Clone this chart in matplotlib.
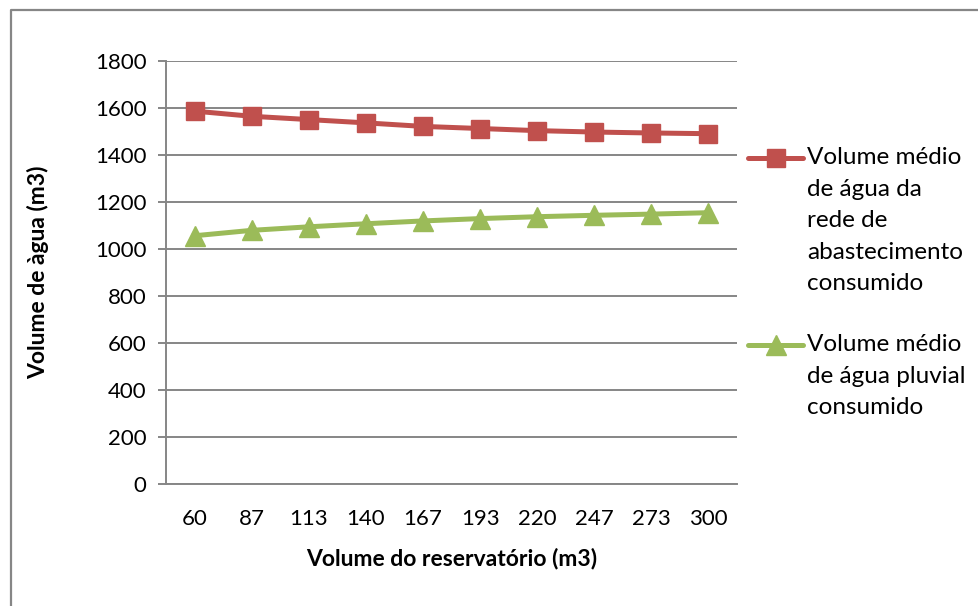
import numpy as np
import matplotlib
matplotlib.use("Agg")
import matplotlib.pyplot as plt
from matplotlib.lines import Line2D

# dados: volume do reservatorio (m3) e volumes medios consumidos (m3)
reservatorio = ["60", "87", "113", "140", "167", "193", "220", "247", "273", "300"]
agua_rede = [1587, 1565, 1551, 1537, 1522, 1513, 1504, 1498, 1494, 1491]
agua_pluvial = [1057, 1080, 1095, 1108, 1120, 1130, 1138, 1144, 1149, 1155]

rotulo_rede = "Volume médio\nde água da\nrede de\nabastecimento\nconsumido"
rotulo_pluvial = "Volume médio\nde água pluvial\nconsumido"

vermelho = "#C0504D"
verde = "#9BBB59"
cinza = "#868686"

plt.rcParams["font.family"] = ["Lato", "DejaVu Sans"]

fig = plt.figure(figsize=(9.79, 6.06), dpi=100)
ax = fig.add_axes([0.1696, 0.2008, 0.5832, 0.6985])

x = np.arange(len(reservatorio))
ax.plot(x, agua_rede, color=vermelho, lw=3.6, marker="s", ms=13, zorder=3)
ax.plot(x, agua_pluvial, color=verde, lw=3.6, marker="^", ms=15, zorder=3)

ax.set_xlim(-0.5, len(reservatorio) - 0.5)
ax.set_ylim(0, 1800)
ax.set_yticks(np.arange(0, 1801, 200))
ax.set_xticks(x)
ax.set_xticklabels(reservatorio)
ax.yaxis.grid(True, color=cinza, lw=1.4)
ax.set_axisbelow(True)
for lado in ["top", "right"]:
    ax.spines[lado].set_visible(False)
for lado in ["left", "bottom"]:
    ax.spines[lado].set_color(cinza)
    ax.spines[lado].set_linewidth(1.4)
ax.tick_params(axis="y", length=6, width=1.4, color=cinza, labelsize=16, pad=8)
ax.tick_params(axis="x", length=0, labelsize=16, pad=18)

ax.set_xlabel("Volume do reservatório (m3)", fontsize=16.5, fontweight="bold", labelpad=13)
ax.set_ylabel("Volume de àgua (m3)", fontsize=16.5, fontweight="bold")
ax.yaxis.set_label_coords(-0.205, 0.5)

# legenda desenhada a mao (marcador alinhado com a primeira linha do texto)
W, H = 979, 606
def item_legenda(y_px, cor, marcador, ms, texto):
    yf = 1 - y_px / H
    fig.add_artist(Line2D([748 / W, 803 / W], [yf, yf], color=cor, lw=3.6,
                          solid_capstyle="round", transform=fig.transFigure))
    fig.add_artist(Line2D([775.5 / W], [yf], color=cor, marker=marcador, ms=ms,
                          transform=fig.transFigure))
    fig.text(807 / W, yf + 11 / H, texto, fontsize=17.5, va="top", ha="left",
             linespacing=1.62, transform=fig.transFigure)

item_legenda(158, vermelho, "s", 13, rotulo_rede)
item_legenda(345, verde, "^", 15, rotulo_pluvial)

# moldura da area do grafico
fig.add_artist(Line2D([11 / W, 11 / W, 1.0], [0.0, 1 - 10 / H, 1 - 10 / H],
                      color=cinza, lw=1.6, transform=fig.transFigure))

fig.savefig("out.png", dpi=100, facecolor="white")
